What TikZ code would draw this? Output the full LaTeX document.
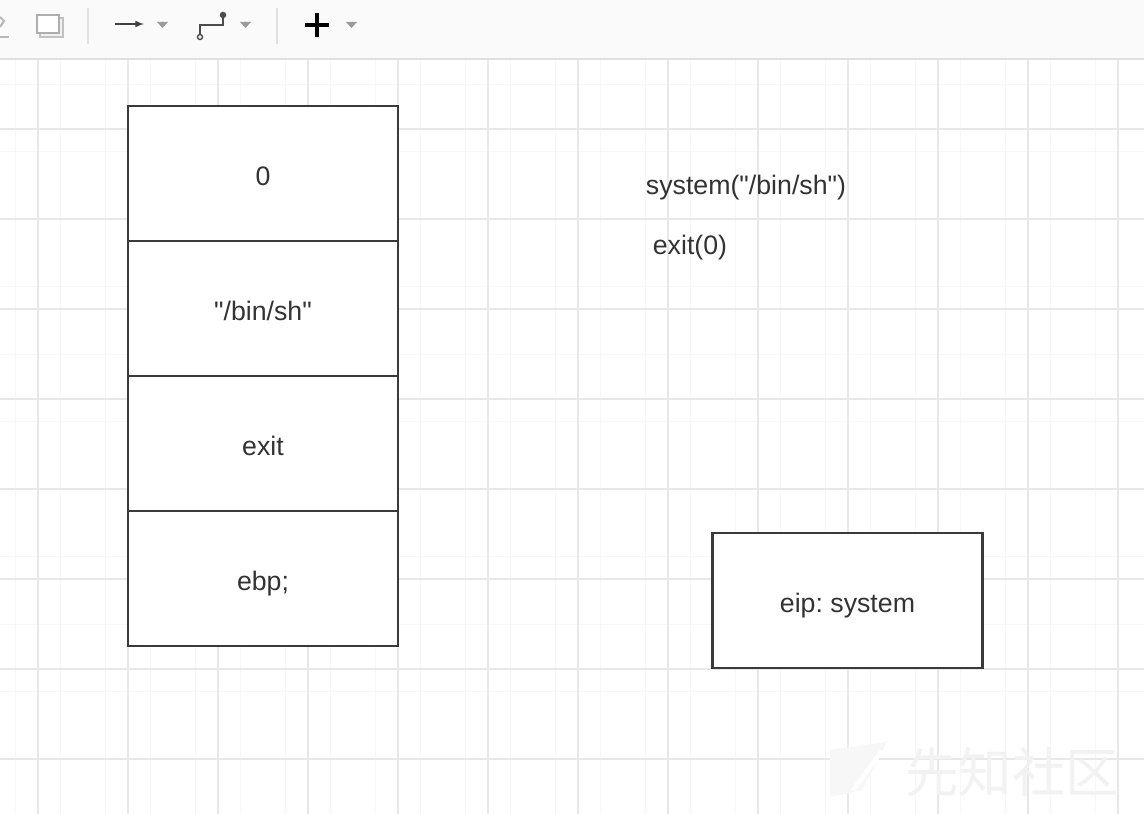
\documentclass[tikz,border=0pt]{standalone}
\usepackage{fontspec}
\setmainfont{Liberation Sans}
\newfontfamily\cjk{Noto Sans CJK SC}
\usepackage{xcolor}
\usepackage{tikz}
\usetikzlibrary{arrows}
\definecolor{inkgray}{HTML}{333333}
\definecolor{boxline}{HTML}{3A3A3A}
\definecolor{toolgray}{HTML}{9A9A9A}
\frenchspacing

\begin{document}
\begin{tikzpicture}[x=0.025cm, y=-0.025cm,
  gridline/.style={draw=black!9, line width=1.2pt},
  minorline/.style={draw=black!3, line width=0.6pt},
  slot/.style={shape=rectangle, draw=boxline, line width=1.5pt, fill=white,
    minimum width=6.75cm, minimum height=3.375cm, inner sep=0pt,
    text height=17.3pt, text depth=0pt,
    text=inkgray, font=\fontsize{19}{23}\selectfont},
  note/.style={text=inkgray, font=\fontsize{19}{23}\selectfont, inner sep=0pt,
    text height=17.3pt, text depth=0pt},
  caret/.style={fill=toolgray, draw=none}]
 \useasboundingbox (0,0) rectangle (1144,814);
 \fill [white] (0,0) rectangle (1144,814);
 % grid
 \foreach \x in {15.5,60.5,...,1140} \draw [minorline] (\x,60) -- (\x,814);
 \foreach \y in {84,151.5,...,814} \draw [minorline] (0,\y) -- (1144,\y);
 \foreach \x in {38,128,...,1140} \draw [gridline] (\x,60) -- (\x,814);
 \foreach \y in {129,219,...,814} \draw [gridline] (0,\y) -- (1144,\y);
 % toolbar
 \fill [black!2] (0,0) rectangle (1144,59);
 \draw [black!12, line width=1.2pt] (0,59) -- (1144,59);
 \draw [toolgray!70, line width=1.5pt] (0,17) -- (4,21) -- (0,27);
 \draw [toolgray!70, line width=2pt] (0,37) -- (9,37);
 \draw [toolgray!60, line width=1.2pt, fill=black!6] (40,18) rectangle (63,37);
 \draw [toolgray!80, line width=1pt, fill=white] (37,15) rectangle (59,33);
 \draw [black!12, line width=1pt] (88,8) -- (88,44);
 \draw [black!75, line width=1.1pt, -latex] (115,24) -- (144,24);
 \fill [caret] (157,22) -- (168,22) -- (162.5,28) -- cycle;
 \draw [black!70, line width=1.1pt] (200,37) -- (200,25) -- (223,25) -- (223,15);
 \draw [black!70, line width=1pt, fill=white] (200,37) circle (2.5);
 \draw [black!70, line width=1pt, fill=black!70] (223,15) circle (2.5);
 \fill [caret] (240,22) -- (251,22) -- (245.5,28) -- cycle;
 \draw [black!12, line width=1pt] (277,8) -- (277,44);
 \draw [black, line width=3.5pt] (305,25) -- (329,25) (317,13) -- (317,37);
 \fill [caret] (346,22) -- (357,22) -- (351.5,28) -- cycle;
 % stack frame
 \node (zero)   at (263,173.5) [slot] {0};
 \node (binsh)  at (263,308.5) [slot] {\textquotedbl/bin/sh\textquotedbl};
 \node (exitfn) at (263,443.5) [slot] {exit};
 \node (ebp)    at (263,578.5) [slot] {ebp;};
 \node (eip)    at (847.5,600.5) [slot] {eip: system};
 % calls
 \node (syscall) at (746,182) [note] {system(\textquotedbl/bin/sh\textquotedbl)};
 \node (exitcall) at (690,242) [note] {exit(0)};
 % watermark
 \fill [black!3] (830,750) -- (887,742) -- (862,790) -- (830,797) -- cycle;
 \fill [white] (850,790) -- (880,750) -- (884,752) -- (856,790) -- cycle;
 \node (mark) at (1012,772) [text=black!5, font=\cjk\fontsize{38}{40}\selectfont, inner sep=0pt] {先知社区};
\end{tikzpicture}
\end{document}
